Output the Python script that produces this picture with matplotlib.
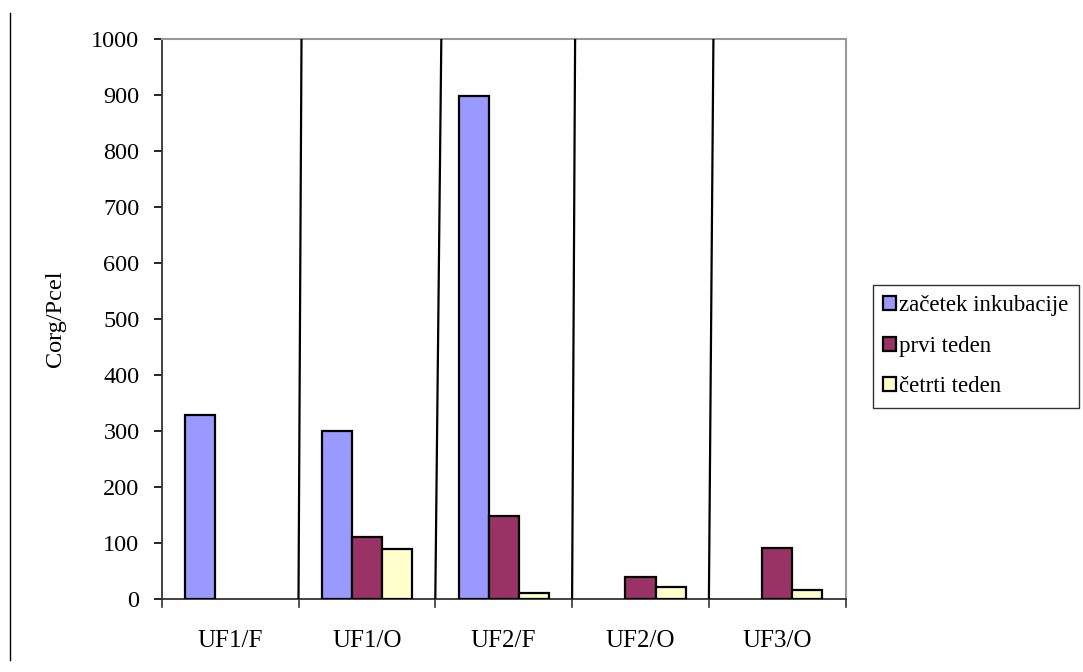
import matplotlib
matplotlib.use("Agg")
import matplotlib.pyplot as plt
import numpy as np
from matplotlib.lines import Line2D

categories = ["UF1/F", "UF1/O", "UF2/F", "UF2/O", "UF3/O"]
series_names = ["začetek inkubacije", "prvi teden", "četrti teden"]
zacetek = [328, 300, 898, 0, 0]
prvi = [0, 111, 148, 39, 91]
cetrti = [0, 89, 10, 22, 16]
colors = ["#9999FF", "#993366", "#FFFFCC"]
yticks = [0, 100, 200, 300, 400, 500, 600, 700, 800, 900, 1000]

plt.rcParams['font.family'] = ['Liberation Serif', 'DejaVu Serif']

fig = plt.figure(figsize=(10.83, 6.72), dpi=100)
W, H = 1083, 672
ax = fig.add_axes([161.7 / W, 1 - 599 / H, (845.7 - 161.7) / W, (599 - 39) / H])

x = np.arange(len(categories))
bw = 0.22
for i, (vals, c, name) in enumerate(zip([zacetek, prvi, cetrti], colors, series_names)):
    vals = np.asarray(vals, dtype=float)
    m = vals > 0
    ax.bar((x + (i - 1) * bw)[m], vals[m], width=bw, color=c, edgecolor="black",
           linewidth=1.6, label=name, zorder=3)

ax.set_xlim(-0.5, len(categories) - 0.5)
ax.set_ylim(0, 1000)
ax.set_yticks(yticks)
ax.set_yticklabels([str(t) for t in yticks], fontsize=17.5)
ax.set_xticks(x)
ax.set_xticklabels(categories, fontsize=18)
ax.tick_params(axis="x", length=0, pad=22)
ax.tick_params(axis="y", direction="out", length=6, width=1.2, pad=10)

bounds = np.arange(len(categories) + 1) - 0.5
offs = [0, 0.022, 0.044, 0.022, 0.033, 0]
for b in bounds:
    ax.plot([b, b], [0, -14], color="#333333", lw=1.2, clip_on=False, zorder=4)
for b, o in zip(bounds[1:-1], offs[1:-1]):
    ax.plot([b, b + o], [0, 1000], color="black", lw=1.6, zorder=4)

for s in ["left", "bottom"]:
    ax.spines[s].set_color("#333333")
    ax.spines[s].set_linewidth(1.3)
for s in ["top", "right"]:
    ax.spines[s].set_color("#999999")
    ax.spines[s].set_linewidth(1.5)

ax.set_ylabel("Corg/Pcel", fontsize=17.5, labelpad=18)

leg = fig.legend(loc="upper left", bbox_to_anchor=(872.7 / W, 1 - 285 / H),
                 fontsize=16.5, frameon=True, fancybox=False, edgecolor="black",
                 handlelength=0.55, handleheight=0.55, handletextpad=0.15,
                 labelspacing=0.85, borderpad=0.45, borderaxespad=0)
leg.get_frame().set_linewidth(1.0)
for h in leg.legend_handles:
    h.set_linewidth(1.6)

fig.add_artist(Line2D([10 / W, 10 / W], [1 - 13 / H, 1 - 660 / H], color="black", lw=1.0))

fig.savefig("out.png", dpi=100)
